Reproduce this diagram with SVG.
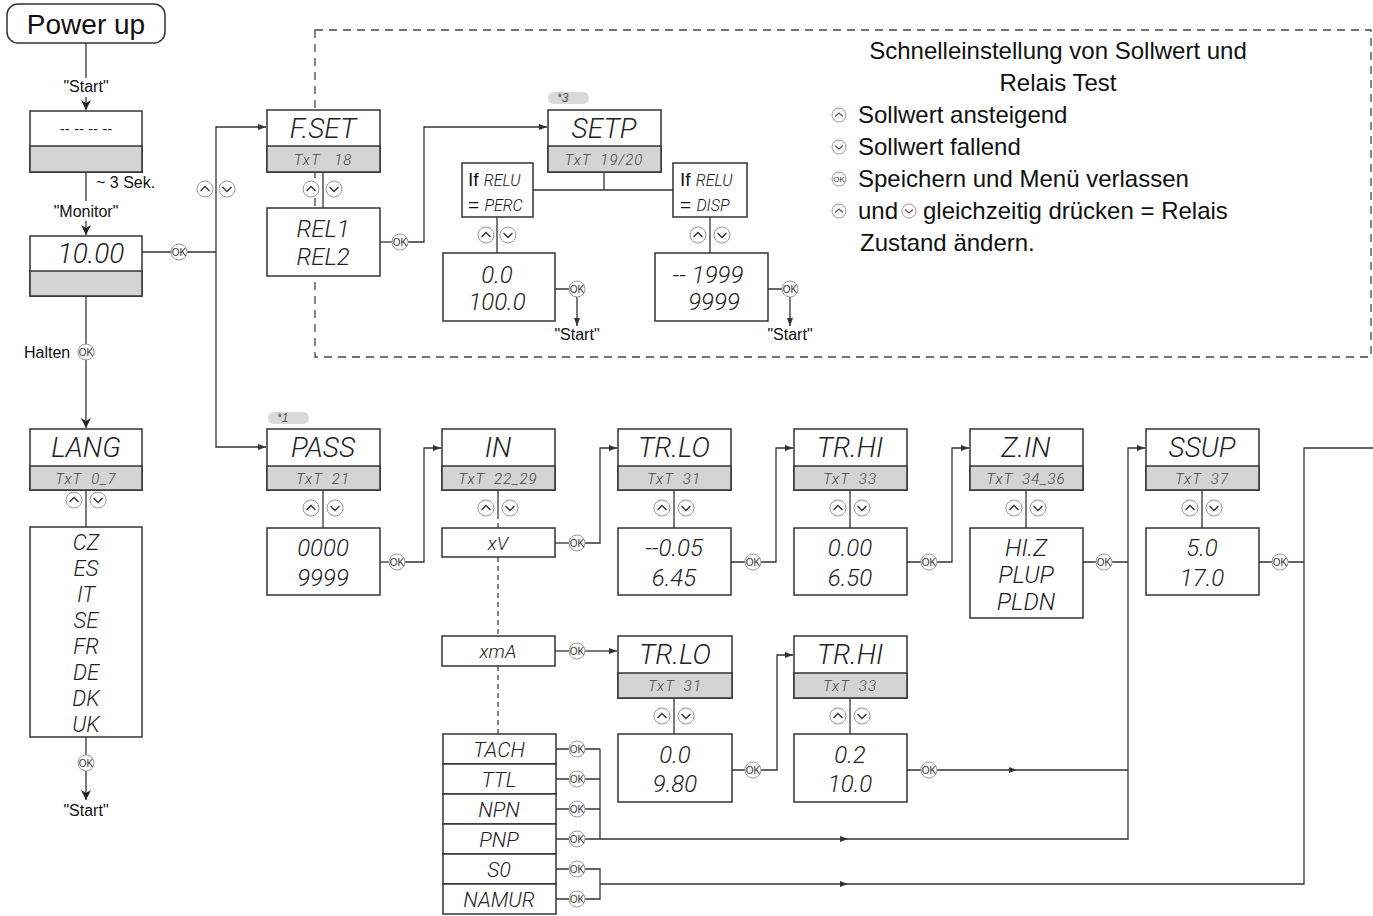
<svg xmlns="http://www.w3.org/2000/svg" xmlns:xlink="http://www.w3.org/1999/xlink" width="1373" height="916" viewBox="0 0 1373 916">
<style>
.ln{stroke:#333;stroke-width:1.3;fill:none}
.dash{stroke:#444;stroke-width:1.3;stroke-dasharray:8 6;fill:none}
.bx{fill:#fff;stroke:#333;stroke-width:1.5}
.gy{fill:#d4d4d4;stroke:#333;stroke-width:1.5}
.seg{font-family:Roboto,"Liberation Sans",Arial,sans-serif;font-weight:300;font-style:italic;fill:#222;text-anchor:middle}
.h{font-size:28px}
.v{font-size:24px}
.s{font-size:15px;fill:#444;letter-spacing:1px}
.lbl{font-family:"Liberation Sans",Arial,sans-serif;font-size:16px;fill:#111}
.c{text-anchor:middle}
.leg{font-family:"Liberation Sans",Arial,sans-serif;font-size:24px;fill:#111}
.okc{fill:#fff;stroke:#999;stroke-width:1}
.okt{font-family:"Liberation Sans",Arial,sans-serif;font-size:10px;fill:#333;text-anchor:middle}
.pill{fill:#d9d9d9}
.pt{font-family:"Liberation Sans",Arial,sans-serif;font-style:italic;font-size:12px;fill:#555}
.ift{font-family:"Liberation Sans",Arial,sans-serif;font-size:19px;fill:#111}
.ifs{font-family:Roboto,"Liberation Sans",Arial,sans-serif;font-weight:300;font-style:italic;font-size:16px}
</style>
<defs>
<marker id="ah" markerWidth="8" markerHeight="6" refX="8" refY="3" orient="auto" markerUnits="userSpaceOnUse"><path d="M0,0 L8,3 L0,6 z" fill="#333"/></marker>
<marker id="ahL" markerWidth="10" markerHeight="10" refX="10" refY="5" orient="auto" markerUnits="userSpaceOnUse"><path d="M0,0 L10,5 L0,10 L3,5 z" fill="#222"/></marker>
<g id="up"><circle r="8" class="okc"/><path d="M-4.5,2 L0,-2.5 L4.5,2" stroke="#333" stroke-width="1.3" fill="none"/></g>
<g id="dn"><circle r="8" class="okc"/><path d="M-4.5,-2 L0,2.5 L4.5,-2" stroke="#333" stroke-width="1.3" fill="none"/></g>
<g id="ups"><circle r="7" class="okc"/><path d="M-4,1.5 L0,-2 L4,1.5" stroke="#555" stroke-width="1.1" fill="none"/></g>
<g id="dns"><circle r="7" class="okc"/><path d="M-4,-1.5 L0,2 L4,-1.5" stroke="#555" stroke-width="1.1" fill="none"/></g>
</defs>
<rect width="1373" height="916" fill="#fff"/>
<rect id="quickset-area" class="dash" x="315" y="30" width="1056" height="327"/>

<g id="connectors">
<path class="ln" d="M86,43 V78"/>
<path class="ln" d="M86,97 V110" marker-end="url(#ahL)"/>
<path class="ln" d="M86,172 V201"/>
<path class="ln" d="M86,221 V235" marker-end="url(#ahL)"/>
<path class="ln" d="M86,296 V344"/>
<path class="ln" d="M86,360 V428" marker-end="url(#ahL)"/>
<path class="ln" d="M86,490 V527"/>
<path class="ln" d="M86,737 V755"/>
<path class="ln" d="M86,771 V800" marker-end="url(#ahL)"/>
<path class="ln" d="M142,252 H171 M187,252 H216"/>
<path class="ln" d="M216,252 V127 H266" marker-end="url(#ah)"/>
<path class="ln" d="M216,252 V447 H266" marker-end="url(#ah)"/>
<path class="ln" d="M323,172 V208"/>
<path class="ln" d="M380,242 H392"/>
<path class="ln" d="M408,242 H424 V127 H547" marker-end="url(#ah)"/>
<path class="ln" d="M604,172 V190 M533,190 H673"/>
<path class="ln" d="M497,217 V253 M710,217 V253"/>
<path class="ln" d="M555,289 H569 M768,289 H782"/>
<path class="ln" d="M577,297 V326" marker-end="url(#ah)"/>
<path class="ln" d="M790,297 V326" marker-end="url(#ah)"/>
<path class="ln" d="M323,490 V528"/>
<path class="ln" d="M380,562 H389"/>
<path class="ln" d="M405,562 H424 V448 H441" marker-end="url(#ah)"/>
<path class="ln" d="M498,490 V514"/>
<path class="dash" d="M498,514 V528 M498,557 V636 M498,666 V734" style="stroke-dasharray:5 4"/>
<path class="ln" d="M555,543 H569"/>
<path class="ln" d="M585,543 H600 V448 H617" marker-end="url(#ah)"/>
<path class="ln" d="M674,490 V528 M850,490 V528 M1026,490 V528 M1202,490 V528"/>
<path class="ln" d="M731,562 H745 M907,562 H921 M1083,562 H1096 M1259,562 H1272"/>
<path class="ln" d="M761,562 H776 V448 H793" marker-end="url(#ah)"/>
<path class="ln" d="M937,562 H952 V448 H969" marker-end="url(#ah)"/>
<path class="ln" d="M1112,562 H1128 M1288,562 H1304"/>
<path class="ln" d="M555,651 H569"/>
<path class="ln" d="M585,651 H617" marker-end="url(#ah)"/>
<path class="ln" d="M674,698 V734 M850,698 V734"/>
<path class="ln" d="M732,770 H745 M907,770 H921"/>
<path class="ln" d="M761,770 H777 V655 H793" marker-end="url(#ah)"/>
<path class="ln" d="M937,770 H1017" marker-end="url(#ah)"/>
<path class="ln" d="M1017,770 H1128"/>
<path class="ln" d="M556,749 H569 M556,779 H569 M556,809 H569 M556,839 H569 M556,869 H569 M556,899 H569"/>
<path class="ln" d="M585,749 H600 M585,779 H600 M585,809 H600 M600,749 V839"/>
<path class="ln" d="M585,839 H848" marker-end="url(#ah)"/>
<path class="ln" d="M848,839 H1128 V448 H1145" marker-end="url(#ah)"/>
<path class="ln" d="M585,869 H600 V899 H585"/>
<path class="ln" d="M600,884 H848" marker-end="url(#ah)"/>
<path class="ln" d="M848,884 H1304 V448 H1373"/>
<use href="#up" x="205" y="189"/><use href="#dn" x="227" y="189"/>
<use href="#up" x="311" y="189"/><use href="#dn" x="334" y="189"/>
<use href="#up" x="74" y="500"/><use href="#dn" x="98" y="500"/>
<use href="#up" x="486" y="235"/><use href="#dn" x="508" y="235"/>
<use href="#up" x="698" y="235"/><use href="#dn" x="722" y="235"/>
<use href="#up" x="311" y="508"/><use href="#dn" x="335" y="508"/>
<use href="#up" x="486" y="508"/><use href="#dn" x="510" y="508"/>
<use href="#up" x="662" y="508"/><use href="#dn" x="686" y="508"/>
<use href="#up" x="838" y="508"/><use href="#dn" x="862" y="508"/>
<use href="#up" x="1014" y="508"/><use href="#dn" x="1038" y="508"/>
<use href="#up" x="1190" y="508"/><use href="#dn" x="1214" y="508"/>
<use href="#up" x="662" y="716"/><use href="#dn" x="686" y="716"/>
<use href="#up" x="838" y="716"/><use href="#dn" x="862" y="716"/>
<g>
<circle class="okc" cx="179" cy="252" r="8"/><text class="okt" x="179" y="255.5">OK</text>
<circle class="okc" cx="86" cy="352" r="8"/><text class="okt" x="86" y="355.5">OK</text>
<circle class="okc" cx="86" cy="763" r="8"/><text class="okt" x="86" y="766.5">OK</text>
<circle class="okc" cx="400" cy="242" r="8"/><text class="okt" x="400" y="245.5">OK</text>
<circle class="okc" cx="577" cy="289" r="8"/><text class="okt" x="577" y="292.5">OK</text>
<circle class="okc" cx="790" cy="289" r="8"/><text class="okt" x="790" y="292.5">OK</text>
<circle class="okc" cx="397" cy="562" r="8"/><text class="okt" x="397" y="565.5">OK</text>
<circle class="okc" cx="577" cy="543" r="8"/><text class="okt" x="577" y="546.5">OK</text>
<circle class="okc" cx="753" cy="562" r="8"/><text class="okt" x="753" y="565.5">OK</text>
<circle class="okc" cx="929" cy="562" r="8"/><text class="okt" x="929" y="565.5">OK</text>
<circle class="okc" cx="1104" cy="562" r="8"/><text class="okt" x="1104" y="565.5">OK</text>
<circle class="okc" cx="1280" cy="562" r="8"/><text class="okt" x="1280" y="565.5">OK</text>
<circle class="okc" cx="577" cy="651" r="8"/><text class="okt" x="577" y="654.5">OK</text>
<circle class="okc" cx="753" cy="770" r="8"/><text class="okt" x="753" y="773.5">OK</text>
<circle class="okc" cx="929" cy="770" r="8"/><text class="okt" x="929" y="773.5">OK</text>
<circle class="okc" cx="577" cy="749" r="8"/><text class="okt" x="577" y="752.5">OK</text>
<circle class="okc" cx="577" cy="779" r="8"/><text class="okt" x="577" y="782.5">OK</text>
<circle class="okc" cx="577" cy="809" r="8"/><text class="okt" x="577" y="812.5">OK</text>
<circle class="okc" cx="577" cy="839" r="8"/><text class="okt" x="577" y="842.5">OK</text>
<circle class="okc" cx="577" cy="869" r="8"/><text class="okt" x="577" y="872.5">OK</text>
<circle class="okc" cx="577" cy="899" r="8"/><text class="okt" x="577" y="902.5">OK</text>
</g>
<text class="lbl c" x="86" y="92">"Start"</text>
<text class="lbl" x="96" y="188">~ 3 Sek.</text>
<text class="lbl c" x="86" y="217">"Monitor"</text>
<text class="lbl" x="24" y="358">Halten</text>
<text class="lbl c" x="86" y="816">"Start"</text>
<text class="lbl c" x="577" y="340">"Start"</text>
<text class="lbl c" x="790" y="340">"Start"</text>
</g>

<g id="power-up">
<rect x="7" y="4" width="158" height="39" rx="11" fill="#fff" stroke="#333" stroke-width="1.5"/>
<text x="86" y="34" font-family="Liberation Sans, Arial, sans-serif" font-size="28" fill="#111" text-anchor="middle">Power up</text>
</g>
<g id="start-display">
<rect class="bx" x="30" y="111" width="112" height="61"/><rect class="gy" x="30" y="146" width="112" height="26"/>
<text x="86" y="134" font-family="Liberation Sans, Arial, sans-serif" font-size="15" fill="#222" text-anchor="middle">-- -- -- --</text>
</g>
<g id="monitor">
<rect class="bx" x="30" y="236" width="112" height="60"/><rect class="gy" x="30" y="271" width="112" height="25"/>
<text class="seg h" x="91" y="263">10.00</text>
</g>
<g id="lang">
<rect class="bx" x="30" y="429" width="112" height="61"/><rect class="gy" x="30" y="466" width="112" height="24"/>
<text class="seg h" x="86" y="457">LANG</text>
<text class="seg s" x="86" y="484" xml:space="preserve">TxT  0_7</text>
</g>
<g id="lang-list">
<rect class="bx" x="30" y="527" width="112" height="210"/>
<text class="seg" font-size="22" x="86" y="550">CZ</text>
<text class="seg" font-size="22" x="86" y="576">ES</text>
<text class="seg" font-size="22" x="86" y="602">IT</text>
<text class="seg" font-size="22" x="86" y="628">SE</text>
<text class="seg" font-size="22" x="86" y="654">FR</text>
<text class="seg" font-size="22" x="86" y="680">DE</text>
<text class="seg" font-size="22" x="86" y="706">DK</text>
<text class="seg" font-size="22" x="86" y="732">UK</text>
</g>
<g id="fset">
<rect class="bx" x="267" y="110" width="113" height="62"/><rect class="gy" x="267" y="146" width="113" height="26"/>
<text class="seg h" x="323" y="138">F.SET</text>
<text class="seg s" x="323" y="165" xml:space="preserve">TxT   18</text>
</g>
<g id="rel">
<rect class="bx" x="267" y="208" width="113" height="68"/>
<text class="seg v" x="323" y="237">REL1</text>
<text class="seg v" x="323" y="265">REL2</text>
</g>
<g id="setp">
<rect class="pill" x="548" y="92" width="41" height="12" rx="6"/><text class="pt" x="557" y="102">*3</text>
<rect class="bx" x="548" y="110" width="113" height="62"/><rect class="gy" x="548" y="146" width="113" height="26"/>
<text class="seg h" x="604" y="138">SETP</text>
<text class="seg s" x="604" y="165" xml:space="preserve">TxT  19/20</text>
</g>
<g id="if-perc">
<rect class="bx" x="462" y="163" width="71" height="54"/>
<text class="ift" x="468" y="186">If <tspan class="ifs">RELU</tspan></text>
<text class="ift" x="468" y="211">= <tspan class="ifs">PERC</tspan></text>
</g>
<g id="if-disp">
<rect class="bx" x="673" y="163" width="74" height="54"/>
<text class="ift" x="680" y="186">If <tspan class="ifs">RELU</tspan></text>
<text class="ift" x="680" y="211">= <tspan class="ifs">DISP</tspan></text>
</g>
<g id="range-perc">
<rect class="bx" x="443" y="253" width="112" height="68"/>
<text class="seg v" x="497" y="283">0.0</text>
<text class="seg v" x="497" y="310">100.0</text>
</g>
<g id="range-disp">
<rect class="bx" x="655" y="253" width="113" height="68"/>
<text class="seg v" x="708" y="283">-- 1999</text>
<text class="seg v" x="714" y="310">9999</text>
</g>
<g id="legend">
<text class="leg c" x="1058" y="59">Schnelleinstellung von Sollwert und</text>
<text class="leg c" x="1058" y="91">Relais Test</text>
<use href="#ups" x="839" y="115"/>
<text class="leg" x="858" y="123">Sollwert ansteigend</text>
<use href="#dns" x="839" y="147"/>
<text class="leg" x="858" y="155">Sollwert fallend</text>
<circle class="okc" cx="839" cy="179" r="7"/><text class="okt" x="839" y="182" style="font-size:8px">OK</text>
<text class="leg" x="858" y="187">Speichern und Menü verlassen</text>
<use href="#ups" x="839" y="211"/>
<text class="leg" x="858" y="219">und</text>
<use href="#dns" x="909" y="211"/>
<text class="leg" x="923" y="219">gleichzeitig drücken = Relais</text>
<text class="leg" x="860" y="251">Zustand ändern.</text>
</g>
<g id="pass">
<rect class="pill" x="268" y="412" width="41" height="12" rx="6"/><text class="pt" x="277" y="422">*1</text>
<rect class="bx" x="267" y="429" width="113" height="61"/><rect class="gy" x="267" y="466" width="113" height="24"/>
<text class="seg h" x="323" y="457">PASS</text>
<text class="seg s" x="323" y="484" xml:space="preserve">TxT  21</text>
</g>
<g id="pass-val">
<rect class="bx" x="267" y="528" width="113" height="67"/>
<text class="seg v" x="323" y="556">0000</text>
<text class="seg v" x="323" y="586">9999</text>
</g>
<g id="in">
<rect class="bx" x="442" y="429" width="113" height="61"/><rect class="gy" x="442" y="466" width="113" height="24"/>
<text class="seg h" x="498" y="457">IN</text>
<text class="seg s" x="498" y="484" xml:space="preserve">TxT  22_29</text>
</g>
<g id="xv"><rect class="bx" x="442" y="528" width="113" height="29"/><text class="seg" font-size="19" x="498" y="550">xV</text></g>
<g id="xma"><rect class="bx" x="442" y="636" width="113" height="30"/><text class="seg" font-size="19" x="498" y="658">xmA</text></g>
<g id="trlo">
<rect class="bx" x="618" y="429" width="113" height="61"/><rect class="gy" x="618" y="466" width="113" height="24"/>
<text class="seg h" x="674" y="457">TR.LO</text>
<text class="seg s" x="674" y="484" xml:space="preserve">TxT  31</text>
</g>
<g id="trlo-val">
<rect class="bx" x="618" y="528" width="113" height="67"/>
<text class="seg v" x="674" y="556">--0.05</text>
<text class="seg v" x="674" y="586">6.45</text>
</g>
<g id="trhi">
<rect class="bx" x="794" y="429" width="113" height="61"/><rect class="gy" x="794" y="466" width="113" height="24"/>
<text class="seg h" x="850" y="457">TR.HI</text>
<text class="seg s" x="850" y="484" xml:space="preserve">TxT  33</text>
</g>
<g id="trhi-val">
<rect class="bx" x="794" y="528" width="113" height="67"/>
<text class="seg v" x="850" y="556">0.00</text>
<text class="seg v" x="850" y="586">6.50</text>
</g>
<g id="zin">
<rect class="bx" x="970" y="429" width="113" height="61"/><rect class="gy" x="970" y="466" width="113" height="24"/>
<text class="seg h" x="1026" y="457">Z.IN</text>
<text class="seg s" x="1026" y="484" xml:space="preserve">TxT  34_36</text>
</g>
<g id="zin-val">
<rect class="bx" x="970" y="528" width="113" height="90"/>
<text class="seg v" x="1026" y="556">HI.Z</text>
<text class="seg v" x="1026" y="583">PLUP</text>
<text class="seg v" x="1026" y="610">PLDN</text>
</g>
<g id="ssup">
<rect class="bx" x="1146" y="429" width="113" height="61"/><rect class="gy" x="1146" y="466" width="113" height="24"/>
<text class="seg h" x="1202" y="457">SSUP</text>
<text class="seg s" x="1202" y="484" xml:space="preserve">TxT  37</text>
</g>
<g id="ssup-val">
<rect class="bx" x="1146" y="528" width="113" height="67"/>
<text class="seg v" x="1202" y="556">5.0</text>
<text class="seg v" x="1202" y="586">17.0</text>
</g>
<g id="trlo-ma">
<rect class="bx" x="618" y="636" width="114" height="62"/><rect class="gy" x="618" y="673" width="114" height="25"/>
<text class="seg h" x="675" y="664">TR.LO</text>
<text class="seg s" x="675" y="691" xml:space="preserve">TxT  31</text>
</g>
<g id="trlo-ma-val">
<rect class="bx" x="618" y="734" width="114" height="68"/>
<text class="seg v" x="675" y="763">0.0</text>
<text class="seg v" x="675" y="792">9.80</text>
</g>
<g id="trhi-ma">
<rect class="bx" x="794" y="636" width="113" height="62"/><rect class="gy" x="794" y="673" width="113" height="25"/>
<text class="seg h" x="850" y="664">TR.HI</text>
<text class="seg s" x="850" y="691" xml:space="preserve">TxT  33</text>
</g>
<g id="trhi-ma-val">
<rect class="bx" x="794" y="734" width="113" height="68"/>
<text class="seg v" x="850" y="763">0.2</text>
<text class="seg v" x="850" y="792">10.0</text>
</g>
<g id="in-tach"><rect class="bx" x="443" y="734" width="113" height="30"/><text class="seg" font-size="21" x="499" y="757">TACH</text></g>
<g id="in-ttl"><rect class="bx" x="443" y="764" width="113" height="30"/><text class="seg" font-size="21" x="499" y="787">TTL</text></g>
<g id="in-npn"><rect class="bx" x="443" y="794" width="113" height="30"/><text class="seg" font-size="21" x="499" y="817">NPN</text></g>
<g id="in-pnp"><rect class="bx" x="443" y="824" width="113" height="30"/><text class="seg" font-size="21" x="499" y="847">PNP</text></g>
<g id="in-s0"><rect class="bx" x="443" y="854" width="113" height="30"/><text class="seg" font-size="21" x="499" y="877">S0</text></g>
<g id="in-namur"><rect class="bx" x="443" y="884" width="113" height="30"/><text class="seg" font-size="21" x="499" y="907">NAMUR</text></g>
</svg>
